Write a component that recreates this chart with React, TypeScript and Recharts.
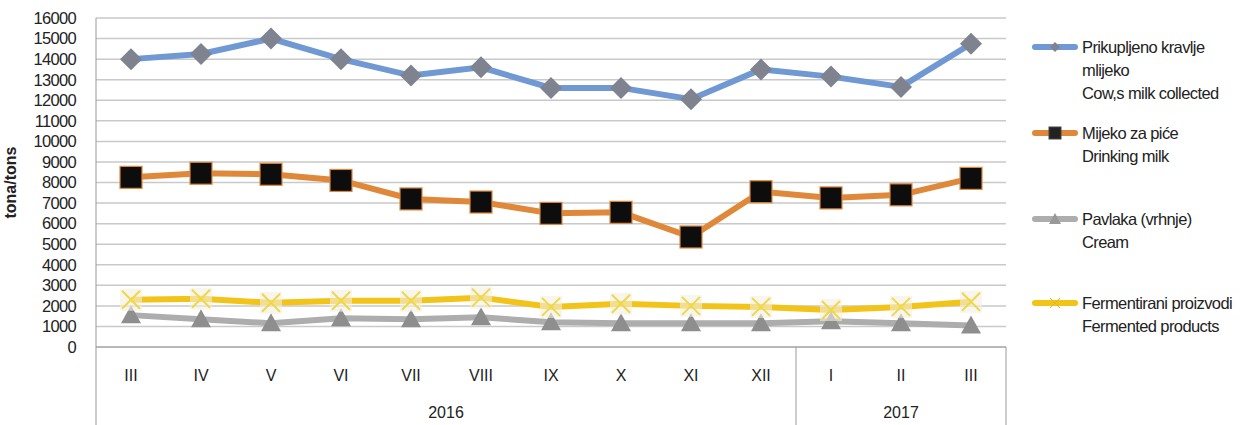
import { LineChart, Line, XAxis, YAxis, CartesianGrid } from "recharts";

const months = ["III", "IV", "V", "VI", "VII", "VIII", "IX", "X", "XI", "XII", "I", "II", "III"];
const cowsMilk = [14000, 14250, 15000, 14000, 13200, 13600, 12600, 12600, 12050, 13500, 13150, 12650, 14750];
const drinkingMilk = [8250, 8450, 8400, 8100, 7200, 7050, 6500, 6550, 5350, 7550, 7250, 7400, 8200];
const cream = [1550, 1350, 1150, 1400, 1350, 1450, 1200, 1150, 1150, 1150, 1250, 1150, 1050];
const fermented = [2300, 2350, 2150, 2250, 2250, 2400, 1950, 2100, 2000, 1950, 1800, 1950, 2200];
const yTicks = [0, 1000, 2000, 3000, 4000, 5000, 6000, 7000, 8000, 9000, 10000, 11000, 12000, 13000, 14000, 15000, 16000];

const data = months.map((m, i) => ({
    id: i,
    month: m,
    cow: cowsMilk[i],
    drink: drinkingMilk[i],
    cream: cream[i],
    ferm: fermented[i],
}));

const FONT = "'Liberation Sans', Arial, sans-serif";
const BLUE = "#7099d4";
const ORANGE = "#e0883a";
const GRAY = "#adadad";
const YELLOW = "#f2c318";
const LINE_GRAY = "#9a9a9a";

const Diamond = (p: any) => (
    <path key={`d${p.index}`} d={`M${p.cx},${p.cy - 11} L${p.cx + 11},${p.cy} L${p.cx},${p.cy + 11} L${p.cx - 11},${p.cy} Z`} fill="#7f828f" />
);
const Square = (p: any) => (
    <rect key={`s${p.index}`} x={p.cx - 11} y={p.cy - 11} width={22} height={22} fill="#0d0d0d" stroke={ORANGE} strokeWidth={1.2} />
);
const Triangle = (p: any) => (
    <path key={`t${p.index}`} d={`M${p.cx},${p.cy - 10} L${p.cx + 10},${p.cy + 8} L${p.cx - 10},${p.cy + 8} Z`} fill="#8e8e8e" />
);
const Cross = (p: any) => (
    <g key={`x${p.index}`}>
        <rect x={p.cx - 11} y={p.cy - 11} width={22} height={22} fill="#f3f0e0" opacity={0.6} />
        <path d={`M${p.cx - 9},${p.cy - 9} L${p.cx + 9},${p.cy + 9} M${p.cx + 9},${p.cy - 9} L${p.cx - 9},${p.cy + 9}`} stroke="#eed84a" strokeWidth={2} />
    </g>
);

const MonthTick = (props: any) => {
    const { x, y, payload, index } = props;
    const half = 35;
    return (
        <g>
            <text x={x} y={y + 34} textAnchor="middle" fontFamily={FONT} fontSize={16} fill="#222">{payload.value}</text>
            {index === 0 && <line x1={x - half} x2={x - half} y1={y} y2={y + 78} stroke={LINE_GRAY} />}
            {index === 10 && <line x1={x - half} x2={x - half} y1={y} y2={y + 78} stroke={LINE_GRAY} />}
            {index === 12 && <line x1={x + half} x2={x + half} y1={y} y2={y + 78} stroke={LINE_GRAY} />}
            {index === 5 && <text x={x - half} y={y + 71} textAnchor="middle" fontFamily={FONT} fontSize={16} fill="#222">2016</text>}
            {index === 11 && <text x={x} y={y + 71} textAnchor="middle" fontFamily={FONT} fontSize={16} fill="#222">2017</text>}
        </g>
    );
};

const legendItems = [
    { color: BLUE, lines: ["Prikupljeno kravlje", "mlijeko", "Cow,s milk collected"], top: 36, marker: "diamond" },
    { color: ORANGE, lines: ["Mijeko za piće", "Drinking milk"], top: 122, marker: "square" },
    { color: GRAY, lines: ["Pavlaka (vrhnje)", "Cream"], top: 208, marker: "triangle" },
    { color: YELLOW, lines: ["Fermentirani proizvodi", "Fermented products"], top: 292, marker: "cross" },
];

function LegendMarker({ color, marker }: { color: string; marker: string }) {
    return (
        <svg width={50} height={22} style={{ position: "absolute", left: 0, top: 0 }}>
            <line x1={5} x2={45} y1={11} y2={11} stroke={color} strokeWidth={6} strokeLinecap="round" />
            {marker === "diamond" && <path d="M25,6 L30,11 L25,16 L20,11 Z" fill="#7f828f" />}
            {marker === "square" && <rect x={19} y={5} width={12} height={12} fill="#222" stroke="#444" />}
            {marker === "triangle" && <path d="M25,5 L31,16 L19,16 Z" fill="#999" />}
            {marker === "cross" && <path d="M20,6 L30,16 M30,6 L20,16" stroke="#e0b820" strokeWidth={1} />}
        </svg>
    );
}

export default function App() {
    return (
        <div style={{ position: "absolute", left: 0, top: 0, width: 1244, height: 425, background: "#fff", overflow: "hidden" }}>
            <LineChart width={1010} height={425} data={data} margin={{ top: 18, right: 4, left: 0, bottom: 0 }}>
                <CartesianGrid horizontal vertical={false} stroke="#c9c9c9" strokeWidth={1.5} />
                <XAxis
                    dataKey="id"
                    height={78}
                    padding={{ left: 35, right: 35 }}
                    axisLine={{ stroke: LINE_GRAY }}
                    tickLine={false}
                    tickSize={0}
                    tickMargin={0}
                    interval={0}
                    tick={(p: any) => <MonthTick {...p} payload={{ value: months[p.payload.value] }} />}
                />
                <YAxis
                    width={96}
                    domain={[0, 16000]}
                    ticks={yTicks}
                    interval={0}
                    axisLine={{ stroke: LINE_GRAY }}
                    tickLine={false}
                    tickMargin={14}
                    tick={{ fontFamily: FONT, fontSize: 16.5, fill: "#222", letterSpacing: -0.7 } as any}
                    label={{ value: "tona/tons", angle: -90, position: "insideLeft", offset: 10, style: { fontFamily: FONT, fontSize: 16, fontWeight: "bold", fill: "#222", textAnchor: "middle" } }}
                />
                <Line dataKey="cream" stroke={GRAY} strokeWidth={6} dot={Triangle} activeDot={false} isAnimationActive={false} />
                <Line dataKey="ferm" stroke={YELLOW} strokeWidth={6} dot={Cross} activeDot={false} isAnimationActive={false} />
                <Line dataKey="drink" stroke={ORANGE} strokeWidth={6} dot={Square} activeDot={false} isAnimationActive={false} />
                <Line dataKey="cow" stroke={BLUE} strokeWidth={6} dot={Diamond} activeDot={false} isAnimationActive={false} />
            </LineChart>
            {legendItems.map((it) => (
                <div key={it.top} style={{ position: "absolute", left: 1030, top: it.top, fontFamily: FONT, fontSize: 16.5, color: "#222", letterSpacing: -0.6, lineHeight: "23px" }}>
                    <LegendMarker color={it.color} marker={it.marker} />
                    <div style={{ marginLeft: 52, whiteSpace: "nowrap" }}>
                        {it.lines.map((l) => <div key={l}>{l}</div>)}
                    </div>
                </div>
            ))}
        </div>
    );
}
